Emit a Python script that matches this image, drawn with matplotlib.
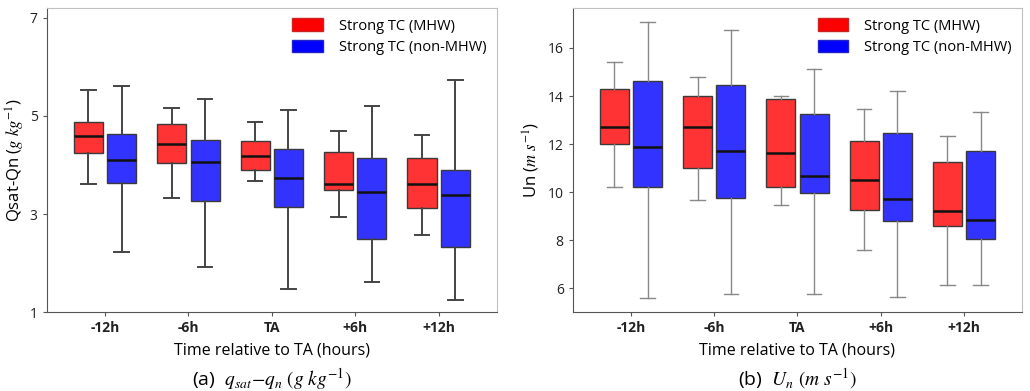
import matplotlib
matplotlib.use("Agg")
import matplotlib.pyplot as plt
from matplotlib.patches import Patch

plt.rcParams['font.family'] = ['Open Sans', 'DejaVu Sans']
plt.rcParams['mathtext.fontset'] = 'stix'

categories = ['-12h', '-6h', 'TA', '+6h', '+12h']

# Panel (a): qsat - qn  (whislo, q1, median, q3, whishi)
qa_mhw_lo = [3.62, 3.32, 3.67, 2.95, 2.58]
qa_mhw_q1 = [4.25, 4.05, 3.90, 3.50, 3.13]
qa_mhw_med = [4.58, 4.43, 4.19, 3.61, 3.62]
qa_mhw_q3 = [4.88, 4.83, 4.48, 4.26, 4.14]
qa_mhw_hi = [5.52, 5.16, 4.87, 4.70, 4.62]

qa_non_lo = [2.23, 1.93, 1.48, 1.62, 1.26]
qa_non_q1 = [3.64, 3.26, 3.15, 2.49, 2.32]
qa_non_med = [4.11, 4.06, 3.74, 3.45, 3.38]
qa_non_q3 = [4.64, 4.50, 4.32, 4.15, 3.90]
qa_non_hi = [5.60, 5.34, 5.11, 5.21, 5.73]

# Panel (b): Un
ub_mhw_lo = [10.20, 9.68, 9.45, 7.58, 6.15]
ub_mhw_q1 = [12.02, 11.01, 10.20, 9.25, 8.59]
ub_mhw_med = [12.70, 12.69, 11.64, 10.50, 9.23]
ub_mhw_q3 = [14.31, 13.99, 13.86, 12.12, 11.27]
ub_mhw_hi = [15.42, 14.79, 14.02, 13.46, 12.32]

ub_non_lo = [5.58, 5.76, 5.76, 5.65, 6.15]
ub_non_q1 = [10.20, 9.76, 9.95, 8.80, 8.04]
ub_non_med = [11.87, 11.70, 10.66, 9.73, 8.86]
ub_non_q3 = [14.61, 14.46, 13.24, 12.48, 11.70]
ub_non_hi = [17.10, 16.75, 15.13, 14.20, 13.32]

labels = ['Strong TC (MHW)', 'Strong TC (non-MHW)']


def stats(lo, q1, med, q3, hi):
    return [dict(whislo=a, q1=b, med=c, q3=d, whishi=e, fliers=[])
            for a, b, c, d, e in zip(lo, q1, med, q3, hi)]


fig = plt.figure(figsize=(10.30, 3.91), dpi=100)
axa = fig.add_axes([0.0453, 0.2013, 0.4372, 0.7775])
axb = fig.add_axes([0.5560, 0.2013, 0.4365, 0.7775])


def draw(ax, s_mhw, s_non, wcolor, wlw):
    pos = list(range(1, len(categories) + 1))
    for s, off, col in ((s_mhw, -0.2, (1, 0.2, 0.2)), (s_non, 0.2, (0.2, 0.2, 1))):
        ax.bxp(s, positions=[p + off for p in pos], widths=0.35,
               capwidths=0.175, patch_artist=True, showfliers=False,
               boxprops=dict(facecolor=col, edgecolor='#3a3a3a', linewidth=1.0),
               medianprops=dict(color='#111111', linewidth=1.8),
               whiskerprops=dict(color=wcolor, linewidth=wlw),
               capprops=dict(color=wcolor, linewidth=wlw),
               manage_ticks=False)
    ax.set_xticks(pos)
    ax.set_xticklabels(categories, fontweight='bold', fontsize=10.5)
    ax.set_xlim(0.3, 5.7)
    for sp in ('top', 'right'):
        ax.spines[sp].set_color('#c0c0c0')
    for sp in ('left', 'bottom'):
        ax.spines[sp].set_color('#555555')
    ax.tick_params(axis='both', colors='#555555', labelcolor='#222222',
                   length=3, labelsize=10)
    ax.set_xlabel('Time relative to TA (hours)', fontsize=11.5, labelpad=5)
    handles = [Patch(facecolor='#ff0000', edgecolor='#cc2222'),
               Patch(facecolor='#0000ff', edgecolor='#2222cc')]
    ax.legend(handles, labels, loc='upper right', frameon=False, fontsize=10.5,
              handlelength=2.1, handleheight=0.9, handletextpad=1.1,
              borderaxespad=0.3, labelspacing=0.45)


draw(axa, stats(qa_mhw_lo, qa_mhw_q1, qa_mhw_med, qa_mhw_q3, qa_mhw_hi),
     stats(qa_non_lo, qa_non_q1, qa_non_med, qa_non_q3, qa_non_hi), '#444444', 1.4)
axa.set_ylim(1, 7.19)
axa.set_yticks([1, 3, 5, 7])
axa.set_ylabel(r'Qsat-Qn ($g\ kg^{-1}$)', fontsize=12, labelpad=2)

draw(axb, stats(ub_mhw_lo, ub_mhw_q1, ub_mhw_med, ub_mhw_q3, ub_mhw_hi),
     stats(ub_non_lo, ub_non_q1, ub_non_med, ub_non_q3, ub_non_hi), '#888888', 1.0)
axb.set_ylim(5.0, 17.65)
axb.set_yticks([6, 8, 10, 12, 14, 16])
axb.set_ylabel(r'Un ($m\ s^{-1}$)', fontsize=12, labelpad=4)

fig.text(0.2639, 1 - 379 / 391, r'(a)  $q_{sat}{-}q_n\ (g\ kg^{-1})$',
         ha='center', va='center', fontsize=14)
fig.text(0.7742, 1 - 379 / 391, r'(b)  $U_n\ (m\ s^{-1})$',
         ha='center', va='center', fontsize=14)

fig.savefig('out.png', dpi=100)
